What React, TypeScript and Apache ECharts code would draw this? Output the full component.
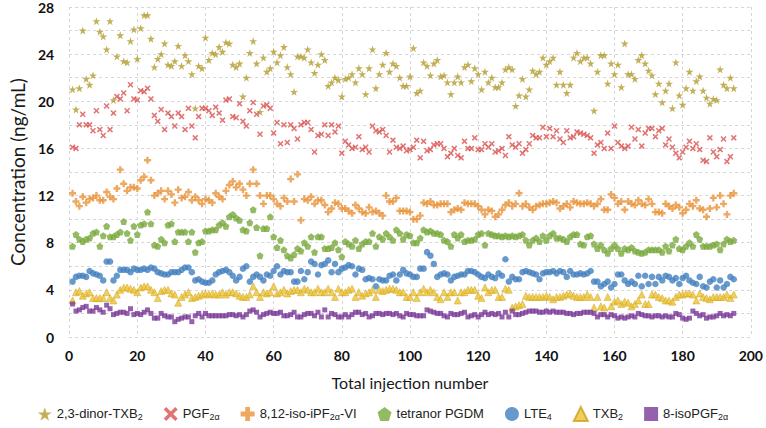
import React, { useEffect, useRef } from 'react';
import * as echarts from 'echarts';

// Injection numbers (x categories)
const injections: number[] = Array.from({ length: 195 }, (_, i) => i + 1);

// Concentrations (ng/mL)
const dinorTXB2 = [
  21.0,19.3,21.1,26.0,21.9,21.4,22.2,26.8,25.9,25.5,
  24.4,26.8,20.1,23.8,25.6,23.4,23.3,25.1,26.1,23.6,
  26.2,27.3,27.3,25.3,22.9,23.6,24.0,24.9,23.1,23.0,
  23.4,24.7,23.0,23.9,23.4,22.3,19.4,23.0,22.8,25.4,
  23.5,24.1,24.0,24.6,24.2,25.0,24.9,23.1,22.9,23.2,
  20.4,22.0,24.1,25.1,23.2,19.1,23.7,22.5,22.8,24.2,
  23.3,23.9,24.6,22.9,22.3,20.8,23.8,23.8,23.7,24.4,
  23.3,22.4,23.1,24.0,23.5,21.3,21.6,22.0,21.8,20.4,
  21.9,22.0,22.3,21.6,22.8,22.3,20.6,22.8,24.4,21.1,
  22.3,23.1,24.1,22.5,23.2,23.0,22.0,21.3,21.3,22.1,
  24.5,20.7,20.9,23.3,23.0,22.2,23.2,23.5,22.1,22.2,
  21.6,20.6,21.6,22.1,21.6,22.9,23.1,21.7,22.8,22.3,
  21.0,22.5,21.6,22.0,21.2,21.2,21.6,22.7,22.9,22.7,
  19.6,20.5,21.9,20.4,21.0,22.6,22.3,22.5,23.7,23.1,
  23.4,23.7,21.4,22.5,21.4,20.7,21.4,23.7,24.1,23.4,
  23.7,23.7,23.2,19.2,22.5,23.9,23.9,21.5,23.2,22.3,
  23.1,21.2,24.9,22.3,22.3,21.9,23.5,23.9,23.2,22.6,
  22.2,20.6,21.5,19.9,20.9,21.5,19.4,23.3,20.5,19.7,
  21.1,22.5,20.9,21.7,22.1,20.9,20.3,19.8,20.2,20.1,
  22.7,21.4,21.1,22.0,21.1,
];

const pgf2a = [
  16.1,16.0,18.0,18.9,18.0,18.0,17.5,19.2,17.6,17.1,
  19.6,17.6,19.0,20.4,20.2,20.7,19.2,21.4,20.2,20.1,
  20.9,20.8,21.1,20.2,18.8,18.3,19.3,17.6,19.0,18.7,
  17.9,19.0,18.7,17.6,19.4,17.9,16.9,18.7,19.4,19.4,
  19.2,18.8,19.5,19.0,18.4,20.1,20.2,18.7,18.6,19.8,
  18.3,17.9,19.2,19.9,18.9,17.2,19.6,19.7,19.4,17.3,
  18.2,16.4,18.0,16.5,18.0,17.7,16.8,18.0,18.2,18.2,
  17.6,15.7,17.1,17.2,18.0,17.1,18.0,17.4,17.9,15.6,
  16.6,16.3,16.0,16.1,17.0,15.9,16.1,15.7,17.9,17.5,
  17.4,17.6,17.1,15.7,16.7,16.1,16.0,16.2,15.8,15.9,
  16.1,16.7,15.2,16.6,15.8,15.9,16.3,16.4,16.4,16.0,
  15.3,15.6,16.0,15.4,15.2,16.6,16.0,16.0,16.9,15.9,
  15.9,16.4,16.1,16.4,15.7,15.8,16.0,15.4,17.0,16.3,
  16.1,16.4,15.6,15.9,16.4,17.1,16.9,16.9,17.8,17.0,
  17.7,17.0,17.5,16.8,16.5,17.5,16.9,17.0,17.4,17.3,
  17.2,17.1,16.9,15.6,16.3,16.5,16.0,17.3,16.0,17.9,
  16.5,16.2,16.0,16.2,17.8,16.8,17.6,16.2,17.3,17.7,
  17.7,17.0,17.5,17.7,16.3,16.8,16.1,15.6,15.2,15.7,
  16.1,16.6,16.0,16.4,15.9,15.0,14.9,16.9,15.7,15.3,
  15.9,16.8,14.9,15.3,16.9,
];

const isoIPF2aVI = [
  12.2,11.5,11.1,11.9,11.4,11.7,11.8,12.0,11.6,11.6,
  12.3,11.9,11.7,12.6,14.2,13.0,12.4,12.7,12.7,12.6,
  13.3,13.6,15.0,13.3,12.0,12.2,12.4,11.7,12.4,12.1,
  11.4,12.5,11.8,11.9,12.3,11.6,11.9,11.6,11.3,11.7,
  11.6,11.4,12.2,11.9,11.7,12.4,12.9,13.2,12.7,13.0,
  12.5,12.0,13.0,14.2,13.0,12.0,11.3,12.0,12.0,11.7,
  11.3,11.1,11.8,11.5,13.4,11.5,13.8,9.9,11.7,11.6,
  11.9,11.3,11.6,11.6,11.2,10.6,10.9,11.4,11.3,10.9,
  10.9,10.7,10.5,11.2,10.9,10.6,10.5,11.0,10.6,10.7,
  10.5,10.3,12.0,11.5,11.5,11.8,10.7,10.7,10.7,10.6,
  10.0,10.0,10.3,11.4,11.3,11.5,11.2,11.2,11.3,11.3,
  11.3,10.6,10.8,10.9,10.8,11.4,11.3,11.3,11.3,11.1,
  10.8,10.4,10.8,10.7,10.2,10.4,10.8,11.2,11.4,11.1,
  11.3,12.2,11.1,11.3,11.0,10.8,11.1,11.2,11.3,11.3,
  11.4,11.5,11.4,10.9,11.1,11.3,11.0,11.5,11.4,11.3,
  11.3,11.4,11.3,11.1,11.3,11.7,10.8,10.8,12.1,11.8,
  11.3,11.5,10.8,11.5,11.3,11.2,11.6,11.3,11.2,11.7,
  11.3,10.6,10.6,10.5,11.3,11.1,10.9,11.2,11.0,10.5,
  10.8,11.3,11.1,11.6,10.9,10.8,10.2,10.9,11.8,11.0,
  12.0,11.3,10.4,12.0,12.2,
];

const tetranorPGDM = [
  7.7,8.7,8.3,8.1,8.3,8.4,8.8,8.9,7.7,8.6,
  9.4,8.5,8.5,8.7,8.9,9.8,8.8,8.2,9.4,8.7,
  9.5,9.6,10.6,9.6,7.8,7.7,8.3,8.0,9.5,9.6,
  8.1,8.9,8.9,8.9,8.1,8.9,7.2,8.0,8.1,9.0,
  9.0,9.1,9.1,9.5,9.7,9.4,10.2,10.4,10.1,9.9,
  9.1,9.0,9.7,10.8,9.3,6.9,9.2,9.2,10.2,8.5,
  7.6,8.2,7.4,6.9,6.7,7.0,7.5,7.3,8.0,7.7,
  8.5,7.2,8.5,8.5,7.5,7.5,7.6,8.0,7.4,6.8,
  8.1,7.9,7.7,8.2,7.5,7.9,8.1,8.1,8.8,7.7,
  8.5,8.3,8.8,8.5,8.2,9.1,8.8,8.3,8.7,8.6,
  8.0,8.0,8.4,9.1,8.9,9.0,8.8,8.8,8.7,8.2,
  8.1,7.7,8.7,8.4,8.7,8.1,8.2,8.2,8.3,8.7,
  8.8,7.8,8.8,8.7,8.6,8.6,8.5,8.6,8.5,8.6,
  8.5,8.6,8.7,8.2,7.8,8.2,8.4,8.1,8.6,8.2,
  8.6,8.8,8.4,8.4,8.3,8.1,8.5,8.7,8.7,7.9,
  7.8,8.5,8.6,7.9,7.5,7.8,7.4,7.1,7.5,7.8,
  7.5,7.1,7.5,7.4,7.6,7.3,7.2,7.1,7.2,7.4,
  7.4,7.4,7.4,7.2,7.7,7.3,7.8,8.3,7.5,7.4,
  7.7,8.0,7.7,8.7,8.3,7.7,7.7,7.7,7.8,7.9,
  7.4,7.9,8.3,8.1,8.2,
];

const lte4 = [
  4.7,5.1,5.2,5.2,5.1,5.6,5.4,5.3,5.2,4.8,
  6.4,6.4,4.8,5.2,5.7,5.7,5.7,5.5,5.8,5.7,
  5.7,5.8,5.7,5.9,5.8,5.5,5.4,5.3,5.3,5.5,
  5.5,5.5,5.7,5.9,5.9,5.5,4.8,4.9,4.7,4.6,
  4.6,4.8,5.3,5.5,5.6,5.7,5.5,5.2,4.8,5.1,
  5.8,6.0,4.7,5.1,5.3,5.1,4.8,5.3,5.2,5.6,
  6.0,5.3,5.6,5.5,5.5,4.7,4.7,5.6,4.9,5.5,
  6.4,6.2,5.3,6.1,6.2,6.5,5.5,6.2,5.5,5.8,
  5.9,6.1,6.0,5.3,5.8,5.7,4.9,5.0,4.9,4.3,
  4.9,4.8,4.8,5.2,5.3,4.8,5.3,5.7,5.4,5.3,
  5.1,5.1,5.8,5.8,7.2,6.9,6.2,5.1,5.3,5.4,
  5.3,4.8,5.1,5.2,5.3,5.3,5.6,5.6,5.5,5.3,
  5.1,5.0,5.3,5.1,5.0,5.4,5.2,6.6,4.7,5.1,
  4.9,4.9,5.5,5.6,5.5,5.4,5.3,4.9,5.4,5.5,
  5.5,5.6,5.4,5.6,5.5,5.1,5.6,5.3,5.3,5.4,
  5.3,5.4,5.6,4.7,4.7,4.3,4.5,4.7,4.2,4.5,
  5.3,5.3,4.8,4.5,4.7,4.5,5.2,4.3,5.2,4.5,
  5.1,4.5,5.1,4.8,5.2,5.1,4.8,5.0,4.5,5.0,
  5.2,4.8,4.6,4.5,5.1,4.3,4.2,4.7,4.9,4.2,
  4.8,4.2,4.5,5.1,4.9,
];

const txb2 = [
  3.1,3.8,3.9,3.5,3.7,3.8,3.3,3.3,3.3,3.3,
  3.8,3.3,3.1,3.6,4.0,4.2,4.2,4.1,4.0,3.8,
  4.2,4.3,4.3,4.0,3.8,3.3,3.9,4.0,4.0,3.7,
  3.6,2.9,3.4,3.6,3.8,3.3,3.4,3.5,3.6,3.7,
  3.6,3.7,3.6,3.6,3.8,3.6,3.8,3.8,3.7,3.5,
  3.4,3.4,3.6,4.3,3.8,3.4,3.8,3.7,3.8,4.3,
  3.7,3.8,4.0,3.7,3.9,4.0,4.0,3.8,4.1,4.0,
  3.8,3.8,4.1,3.8,3.8,4.1,3.8,3.4,4.1,3.8,
  3.8,4.0,4.1,3.4,3.8,3.5,3.7,3.8,4.0,3.4,
  4.0,3.9,4.0,4.1,4.1,4.0,3.8,3.8,3.4,3.4,
  3.8,3.3,3.8,4.1,3.8,4.0,3.8,3.4,3.2,3.8,
  3.4,3.8,3.8,3.1,3.8,3.8,4.0,4.0,4.0,3.5,
  3.3,4.2,3.8,4.0,4.0,3.4,3.4,4.1,4.0,2.5,
  2.6,2.7,2.8,3.5,3.4,3.4,3.4,3.4,3.4,3.5,
  3.4,3.2,3.4,3.4,3.5,3.6,3.7,3.5,3.4,3.4,
  3.4,3.6,3.4,2.5,3.4,2.6,2.5,3.4,2.6,3.0,
  3.1,2.8,3.0,2.9,2.6,2.8,3.1,3.6,2.8,2.8,
  3.6,3.6,3.4,3.3,3.1,3.1,3.0,3.4,3.6,3.6,
  3.7,3.7,3.6,3.1,3.7,3.4,3.3,3.2,3.4,3.4,
  3.4,3.4,3.6,3.3,3.6,
];

const isoPGF2a = [
  2.8,2.2,2.3,2.5,2.6,2.2,2.2,2.5,2.3,2.1,
  2.7,2.4,1.9,2.0,2.1,2.1,2.0,2.4,1.9,2.0,
  1.9,2.1,2.3,2.0,1.6,1.6,2.0,1.8,1.7,1.7,
  1.3,1.5,1.6,1.7,1.7,1.3,1.8,2.0,1.7,2.0,
  1.8,1.8,1.8,1.8,1.8,1.8,1.9,1.9,1.8,1.9,
  1.7,1.9,2.2,2.3,2.1,1.7,1.9,2.0,2.1,2.0,
  2.0,2.1,1.8,1.8,1.9,2.1,1.7,1.7,1.9,2.0,
  2.0,1.8,2.1,1.7,2.3,1.7,2.0,1.9,1.7,1.7,
  1.9,1.7,1.9,2.1,2.1,1.9,2.0,1.7,1.8,2.0,
  2.0,1.9,2.0,2.0,1.9,2.0,1.8,1.7,2.0,1.9,
  1.9,1.8,1.8,1.8,2.3,2.2,2.1,2.0,2.0,1.8,
  1.7,2.0,1.9,1.9,2.0,2.1,1.7,1.8,1.9,1.7,
  1.9,2.1,1.9,2.0,1.9,2.0,1.7,2.1,1.7,2.2,
  1.9,1.9,2.0,2.1,2.2,2.2,2.2,2.1,2.1,2.2,
  2.1,2.2,2.1,2.1,2.1,2.0,2.0,1.9,2.0,2.0,
  2.1,2.1,2.1,2.0,1.7,1.9,1.9,1.7,1.9,1.8,
  1.6,1.7,1.6,1.7,1.8,1.7,2.0,1.9,1.8,1.8,
  1.7,1.8,1.8,1.7,1.8,1.7,1.7,2.0,1.9,1.6,
  1.5,1.6,2.2,2.0,1.8,1.9,1.6,1.7,1.7,1.8,
  2.0,1.8,1.9,1.8,2.0,
];

const yTicks = [0, 4, 8, 12, 16, 20, 24, 28];

const STAR = 'path://M50,0 L61.2,34.5 L97.6,34.5 L68.2,55.9 L79.4,90.5 L50,69.1 L20.6,90.5 L31.8,55.9 L2.4,34.5 L38.8,34.5 Z';
const CROSS = 'path://M18,0 L50,32 L82,0 L100,18 L68,50 L100,82 L82,100 L50,68 L18,100 L0,82 L32,50 L0,18 Z';
const PLUS = 'path://M33,0 L67,0 L67,33 L100,33 L100,67 L67,67 L67,100 L33,100 L33,67 L0,67 L0,33 L33,33 Z';
const PENTAGON = 'path://M50,0 L100,38 L81,100 L19,100 L0,38 Z';

const seriesDefs = [
  { name: '2,3-dinor-TXB₂', rich: '{n|2,3-dinor-TXB}{s|2}', data: dinorTXB2, symbol: STAR, size: 8, color: '#b39c30', border: undefined as string | undefined },
  { name: 'PGF₂α', rich: '{n|PGF}{s|2α}', data: pgf2a, symbol: CROSS, size: 6, color: '#d9514f', border: undefined },
  { name: '8,12-iso-iPF₂α-VI', rich: '{n|8,12-iso-iPF}{s|2α}{n|-VI}', data: isoIPF2aVI, symbol: PLUS, size: 7, color: '#e8933a', border: undefined },
  { name: 'tetranor PGDM', rich: '{n|tetranor PGDM}', data: tetranorPGDM, symbol: PENTAGON, size: 7, color: '#79a93c', border: undefined },
  { name: 'LTE₄', rich: '{n|LTE}{s|4}', data: lte4, symbol: 'circle', size: 6.5, color: '#4280bf', border: undefined },
  { name: 'TXB₂', rich: '{n|TXB}{s|2}', data: txb2, symbol: 'triangle', size: 7, color: '#ebc432', border: '#d0a020' },
  { name: '8-isoPGF₂α', rich: '{n|8-isoPGF}{s|2α}', data: isoPGF2a, symbol: 'rect', size: 5, color: '#7a3a98', border: undefined },
];

export default function App() {
  const ref = useRef<HTMLDivElement>(null);

  useEffect(() => {
    if (!ref.current) return;
    const chart = echarts.init(ref.current, undefined, { renderer: 'svg' });
    const richMap: Record<string, string> = {};
    seriesDefs.forEach((s) => { richMap[s.name] = s.rich; });

    const gridLine = { show: true, lineStyle: { color: '#d6d6d6', type: [3, 3] as any, width: 1 } };

    chart.setOption({
      animation: false,
      backgroundColor: '#ffffff',
      grid: { left: 62, right: 15, top: 7, bottom: 91, containLabel: false },
      xAxis: {
        type: 'value',
        min: 0,
        max: 200,
        interval: 20,
        name: 'Total injection number',
        nameLocation: 'middle',
        nameGap: 37,
        nameTextStyle: { fontFamily: 'Lato', fontSize: 16, color: '#1a1a1a' },
        axisLine: { show: false },
        axisTick: { show: false },
        axisLabel: { fontFamily: 'Lato', fontWeight: 'bold', fontSize: 14, color: '#111', margin: 11 },
        splitLine: gridLine,
      },
      yAxis: {
        type: 'value',
        min: 0,
        max: 28,
        interval: 2,
        name: 'Concentration (ng/mL)',
        nameLocation: 'middle',
        nameGap: 38,
        nameTextStyle: { fontFamily: 'Lato', fontSize: 19, color: '#1a1a1a' },
        axisLine: { show: false },
        axisTick: { show: false },
        axisLabel: {
          fontFamily: 'Lato', fontWeight: 'bold', fontSize: 14, color: '#111', margin: 15,
          formatter: (v: number) => (yTicks.indexOf(v) >= 0 ? String(v) : ''),
        },
        splitLine: gridLine,
      },
      legend: {
        top: 401,
        left: 'center',
        itemGap: 21,
        itemWidth: 14,
        itemHeight: 14,
        data: seriesDefs.map((s) => ({ name: s.name, icon: s.symbol })),
        formatter: (name: string) => richMap[name] || name,
        textStyle: {
          fontFamily: 'Liberation Sans',
          fontSize: 13,
          color: '#222',
          rich: {
            n: { fontFamily: 'Liberation Sans', fontSize: 13, color: '#222', verticalAlign: 'top', lineHeight: 14 },
            s: { fontFamily: 'Liberation Sans', fontSize: 9, color: '#222', verticalAlign: 'bottom', lineHeight: 10 },
          },
        },
      },
      series: seriesDefs.map((s) => ({
        name: s.name,
        type: 'scatter',
        symbol: s.symbol,
        symbolSize: s.size,
        itemStyle: s.border ? { color: s.color, borderColor: s.border, borderWidth: 0.6 } : { color: s.color },
        data: injections.map((x, i) => [x, s.data[i]]),
      })),
    });

    return () => chart.dispose();
  }, []);

  return <div ref={ref} style={{ position: 'fixed', left: 0, top: 0, width: 766, height: 428 }} />;
}
